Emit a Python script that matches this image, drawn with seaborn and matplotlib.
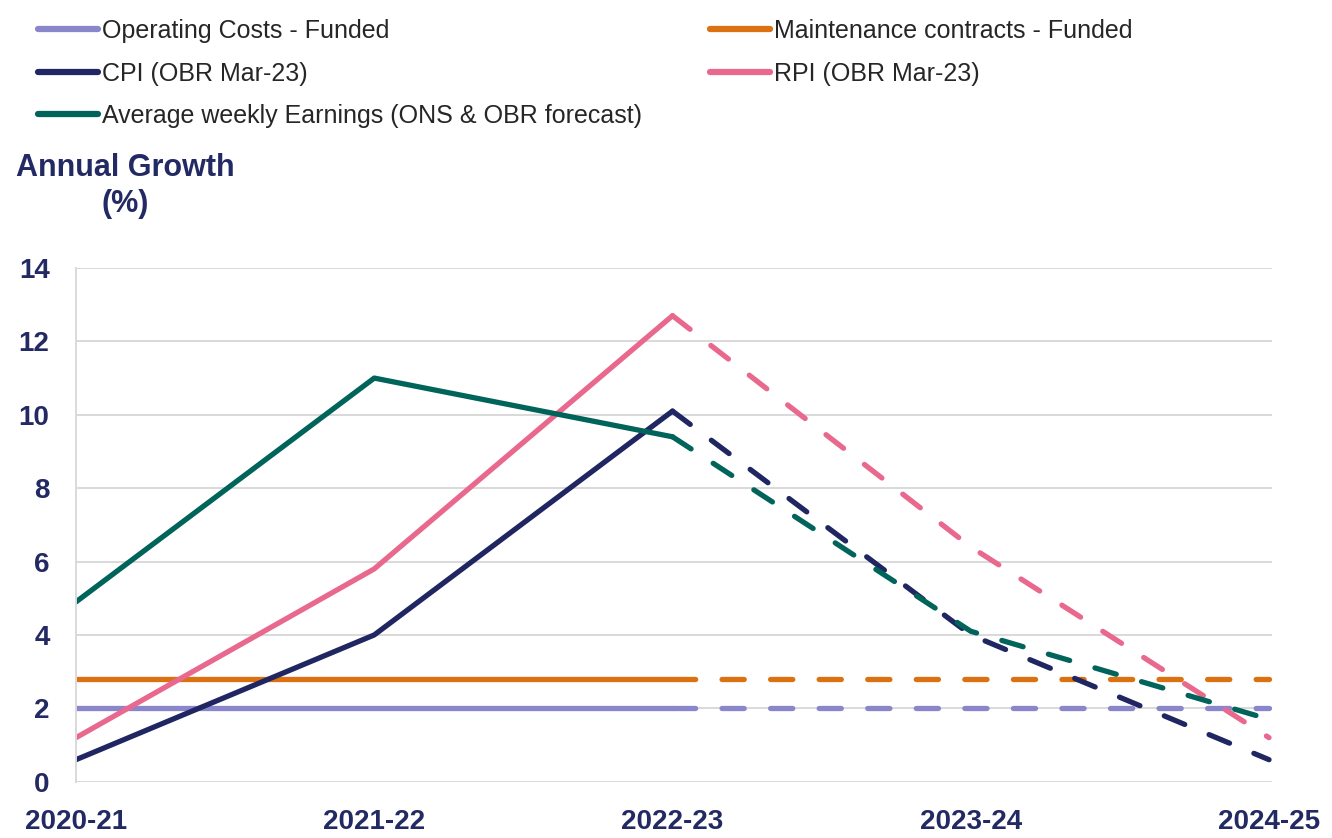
import matplotlib

matplotlib.use("Agg")
import matplotlib.pyplot as plt
import pandas as pd
import seaborn as sns
from matplotlib.lines import Line2D

# chart data
periods = ["2020-21", "2021-22", "2022-23", "2023-24", "2024-25"]
operating_costs = [2.0, 2.0, 2.0, 2.0, 2.0]
maintenance = [2.8, 2.8, 2.8, 2.8, 2.8]
cpi = [0.6, 4.0, 10.1, 4.0, 0.6]
rpi = [1.2, 5.8, 12.7, 6.4, 1.2]
earnings = [4.9, 11.0, 9.4, 4.1, 1.7]

series_names = [
    "Operating Costs - Funded",
    "Maintenance contracts - Funded",
    "CPI (OBR Mar-23)",
    "RPI (OBR Mar-23)",
    "Average weekly Earnings (ONS & OBR forecast)",
]
series_values = [operating_costs, maintenance, cpi, rpi, earnings]
colours = ["#8A86CC", "#DB7111", "#1F2662", "#E9688E", "#00645A"]
last_actual = 2  # 2022-23 is the last outturn year, forecasts after

NAVY = "#232A63"

rows = []
for name, values in zip(series_names, series_values):
    for i, v in enumerate(values):
        if i <= last_actual:
            rows.append({"series": name, "idx": i, "value": v, "segment": "actual"})
        if i >= last_actual:
            rows.append({"series": name, "idx": i, "value": v, "segment": "forecast"})
df = pd.DataFrame(rows)

sns.set_style("white")
plt.rcParams["font.family"] = ["Liberation Sans", "DejaVu Sans"]

fig = plt.figure(figsize=(13.32, 8.38), dpi=100)
ax = fig.add_axes([76 / 1332, 56.3 / 838, 1196 / 1332, 513.7 / 838])

sns.lineplot(
    data=df,
    x="idx",
    y="value",
    hue="series",
    hue_order=series_names,
    palette=dict(zip(series_names, colours)),
    style="segment",
    style_order=["actual", "forecast"],
    dashes={"actual": "", "forecast": (4.2, 5.0)},
    linewidth=3.8,
    dash_capstyle="round",
    solid_capstyle="round",
    solid_joinstyle="round",
    legend=False,
    ax=ax,
)

ax.set_xlim(0, 4.01)
ax.set_ylim(0, 14)
ax.set_yticks(range(0, 15, 2))
ax.set_xticks(range(len(periods)))
ax.set_xticklabels(periods)
ax.set_xlabel("")
ax.set_ylabel("")

ax.yaxis.grid(True, color="#D9D9D9", linewidth=1.4)
ax.xaxis.grid(False)
ax.set_axisbelow(True)
for side in ["top", "right", "bottom"]:
    ax.spines[side].set_visible(False)
ax.spines["left"].set_color("#D9D9D9")
ax.spines["left"].set_linewidth(1.4)

ax.tick_params(axis="y", length=0, pad=19, labelsize=20, labelcolor=NAVY)
ax.tick_params(axis="x", length=0, pad=20, labelsize=20, labelcolor=NAVY)
for lab in ax.get_xticklabels() + ax.get_yticklabels():
    lab.set_fontweight("bold")

fig.text(
    125 / 1332,
    1 - 186 / 838,
    "Annual Growth\n(%)",
    ha="center",
    va="center",
    multialignment="center",
    fontsize=22,
    fontweight="bold",
    color=NAVY,
    linespacing=1.3,
)

# legend in two columns, placed by hand
handles = [Line2D([], [], color=c, linewidth=4.5, solid_capstyle="round") for c in colours]
legend_kw = dict(
    frameon=False,
    fontsize=18,
    handlelength=2.4,
    handletextpad=0.18,
    labelspacing=0.74,
    borderpad=0,
    borderaxespad=0,
    loc="upper left",
    labelcolor="#262626",
)
fig.legend(
    [handles[0], handles[2], handles[4]],
    [series_names[0], series_names[2], series_names[4]],
    bbox_to_anchor=(38 / 1332, 1 - 19 / 838),
    **legend_kw,
)
fig.legend(
    [handles[1], handles[3]],
    [series_names[1], series_names[3]],
    bbox_to_anchor=(710 / 1332, 1 - 19 / 838),
    **legend_kw,
)

fig.savefig("out.png", dpi=100)
